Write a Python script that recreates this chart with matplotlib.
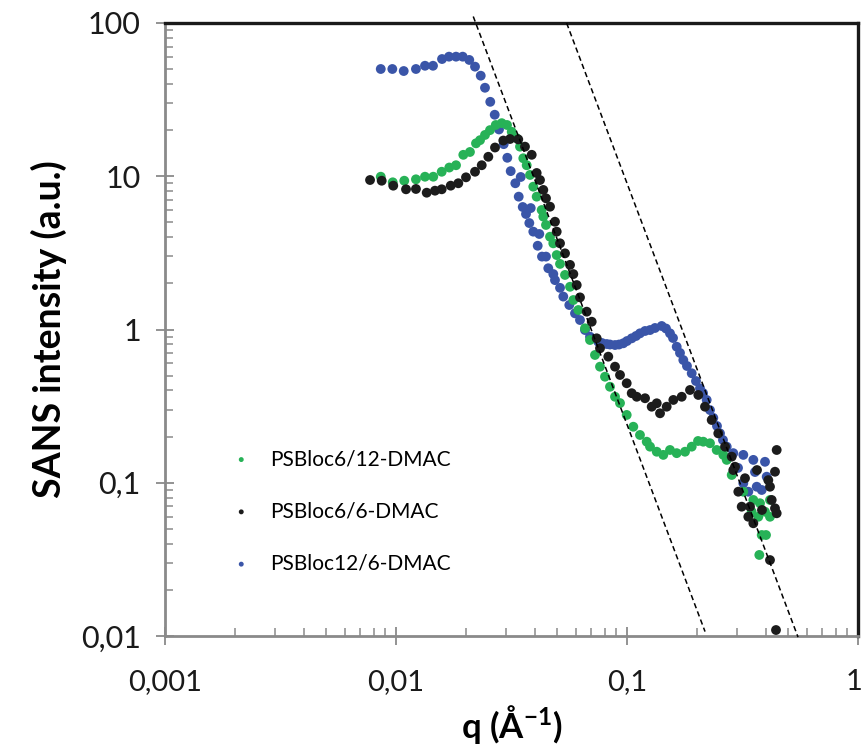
import matplotlib
matplotlib.use("Agg")
import matplotlib.pyplot as plt
import matplotlib.transforms as mtransforms
from matplotlib.ticker import LogLocator, NullFormatter
import numpy as np

plt.rcParams["font.family"] = ["Lato", "DejaVu Sans"]
plt.rcParams["mathtext.default"] = "regular"

# PSBloc6/12-DMAC (green)
q_green = [0.00859, 0.00968, 0.01086, 0.0122, 0.01335, 0.0145, 0.01577, 0.01701, 0.01819, 0.01956,
           0.0209, 0.0222, 0.02311, 0.02428, 0.02552, 0.02703, 0.02869, 0.03024, 0.03169, 0.0333,
           0.03442, 0.03557, 0.03679, 0.03804, 0.0393, 0.04064, 0.04272, 0.04342, 0.0446, 0.04642,
           0.04797, 0.04962, 0.05129, 0.05391, 0.05667, 0.05857, 0.06154, 0.06579, 0.06916, 0.07268,
           0.07641, 0.08031, 0.0844, 0.08874, 0.09327, 0.0997, 0.1065, 0.1138, 0.1217, 0.1258,
           0.1345, 0.1436, 0.1535, 0.1641, 0.1783, 0.1906, 0.203, 0.2139, 0.2287, 0.2445,
           0.2612, 0.2702, 0.284, 0.3188, 0.3523, 0.3765, 0.4159, 0.3465, 0.3702, 0.3957,
           0.4159, 0.383, 0.3997, 0.3739]
I_green = [9.93, 9.13, 9.35, 9.55, 9.93, 9.93, 10.7, 11.4, 11.8, 13.8,
           14.4, 16.4, 17.2, 18.6, 20.0, 21.6, 22.2, 21.6, 19.5, 17.7,
           15.6, 13.1, 11.8, 10.2, 8.55, 7.36, 6.02, 5.45, 4.81, 4.03,
           3.65, 3.06, 2.68, 2.27, 1.90, 1.557, 1.34, 1.018, 0.854, 0.682,
           0.572, 0.492, 0.423, 0.364, 0.331, 0.277, 0.232, 0.205, 0.1853, 0.172,
           0.1594, 0.152, 0.1636, 0.156, 0.1594, 0.172, 0.1873, 0.1853, 0.181, 0.1636,
           0.152, 0.141, 0.1124, 0.0874, 0.0772, 0.0735, 0.0772, 0.0647, 0.060, 0.0647,
           0.060, 0.0456, 0.0456, 0.0338]

# PSBloc6/6-DMAC (black)
q_black = [0.00772, 0.00867, 0.00973, 0.01105, 0.0122, 0.01358, 0.01475, 0.01577, 0.01725, 0.01861,
           0.02009, 0.02198, 0.0235, 0.0251, 0.02683, 0.02914, 0.03115, 0.03383, 0.03617, 0.03868,
           0.04064, 0.04201, 0.04342, 0.0446, 0.04642, 0.04878, 0.04962, 0.05129, 0.05391, 0.05667,
           0.05857, 0.06058, 0.06259, 0.06691, 0.07034, 0.07393, 0.07641, 0.08299, 0.08874, 0.09327,
           0.0997, 0.1048, 0.1102, 0.1197, 0.1279, 0.139, 0.1345, 0.1485, 0.1587, 0.1725,
           0.1874, 0.2036, 0.2176, 0.2326, 0.2484, 0.2657, 0.284, 0.2935, 0.2885, 0.3033,
           0.3137, 0.3408, 0.3351, 0.3523, 0.409, 0.4159, 0.4446, 0.4372, 0.423, 0.4372,
           0.4446, 0.4159, 0.4416, 0.3242, 0.3654, 0.384]
I_black = [9.45, 9.35, 8.68, 8.22, 8.26, 7.81, 8.05, 8.22, 8.68, 9.0,
           9.84, 10.7, 11.8, 13.4, 15.4, 17.1, 17.5, 17.4, 15.6, 13.8,
           10.5, 9.45, 8.14, 7.18, 6.33, 5.05, 4.35, 3.65, 3.14, 2.64,
           2.30, 1.95, 1.62, 1.307, 1.124, 0.876, 0.754, 0.665, 0.572, 0.505,
           0.446, 0.384, 0.364, 0.356, 0.3135, 0.284, 0.330, 0.3135, 0.347, 0.364,
           0.403, 0.374, 0.3135, 0.2568, 0.210, 0.172, 0.148, 0.1272, 0.121, 0.0874,
           0.0698, 0.0698, 0.060, 0.0544, 0.104, 0.0942, 0.1636, 0.118, 0.0772, 0.0681,
           0.0632, 0.0313, 0.01094, 0.107, 0.121, 0.0664]

# PSBloc12/6-DMAC (blue)
q_blue = [0.00859, 0.00964, 0.0108, 0.0122, 0.01335, 0.01446, 0.01582, 0.01696, 0.01819, 0.01944,
          0.02076, 0.02198, 0.02327, 0.02428, 0.02559, 0.02675, 0.02792, 0.02926, 0.03033, 0.03137,
          0.03285, 0.03467, 0.03398, 0.03537, 0.0383, 0.03654, 0.03777, 0.0393, 0.04172, 0.04106,
          0.04285, 0.0446, 0.04563, 0.04797, 0.04878, 0.05129, 0.053, 0.05626, 0.05955, 0.06259,
          0.06579, 0.06916, 0.07511, 0.07796, 0.08169, 0.0844, 0.08874, 0.09235, 0.09638, 0.1,
          0.1048, 0.1094, 0.1138, 0.1197, 0.1258, 0.1322, 0.1413, 0.1475, 0.1535, 0.1582,
          0.1641, 0.1696, 0.1753, 0.1818, 0.1906, 0.1989, 0.207, 0.2133, 0.2213, 0.2287,
          0.2364, 0.2452, 0.2527, 0.2603, 0.2702, 0.2885, 0.3024, 0.3188, 0.3523, 0.3582,
          0.3957, 0.4025, 0.3644, 0.3188, 0.3351, 0.383]
I_blue = [50.1, 50.1, 48.6, 50.1, 52.6, 52.6, 58.2, 60.3, 60.3, 60.3,
          57.4, 51.9, 45.3, 37.8, 30.6, 25.2, 20.2, 16.2, 13.2, 10.8,
          9.0, 9.89, 7.36, 6.3, 6.2, 5.67, 4.95, 4.35, 4.20, 3.52,
          2.99, 2.99, 2.51, 2.30, 2.10, 1.87, 1.64, 1.445, 1.275, 1.153,
          0.992, 0.897, 0.832, 0.816, 0.804, 0.798, 0.792, 0.798, 0.813, 0.841,
          0.876, 0.907, 0.944, 0.978, 0.992, 1.023, 1.054, 1.015, 0.944, 0.880,
          0.772, 0.703, 0.632, 0.578, 0.518, 0.461, 0.413, 0.385, 0.347, 0.298,
          0.265, 0.2346, 0.210, 0.190, 0.172, 0.156, 0.125, 0.152, 0.141, 0.1175,
          0.137, 0.1095, 0.0942, 0.0992, 0.0874, 0.0897]

# q^-4 guide lines: prefactor and q range of each
porod_exp = -4
guide_prefactor = [2.4e-5, 9.0e-4]
guide_qmin = [0.0216, 0.0548]
guide_qmax = [0.2177, 0.55]

x_ticks = [0.001, 0.01, 0.1, 1]
x_labels = ["0,001", "0,01", "0,1", "1"]
y_ticks = [0.01, 0.1, 1, 10, 100]
y_labels = ["0,01", "0,1", "1", "10", "100"]

fig = plt.figure(figsize=(8.64, 7.53), dpi=100)
ax = fig.add_axes([165 / 864, 1 - 636 / 753, 693 / 864, 613 / 753])

ms = 50
h_blue = ax.scatter(q_blue, I_blue, s=ms, color="#3a55a8", edgecolors="none", zorder=3)
h_green = ax.scatter(q_green, I_green, s=ms, color="#27b257", edgecolors="none", zorder=3)
h_black = ax.scatter(q_black, I_black, s=ms, color="#1c1c1c", edgecolors="none", zorder=3)

for A, q0, q1 in zip(guide_prefactor, guide_qmin, guide_qmax):
    qq = np.array([q0, q1])
    ax.plot(qq, A * qq ** porod_exp, color="black", lw=1.1, ls=(0, (3.5, 2.2)),
            zorder=4, clip_on=False)

ax.set_xscale("log")
ax.set_yscale("log")
ax.set_xlim(0.001, 1)
ax.set_ylim(0.01, 100)

ax.set_xticks(x_ticks, x_labels)
ax.set_yticks(y_ticks, y_labels)
ax.xaxis.set_minor_locator(LogLocator(base=10, subs=np.arange(2, 10)))
ax.yaxis.set_minor_locator(LogLocator(base=10, subs=np.arange(2, 10)))
ax.xaxis.set_minor_formatter(NullFormatter())
ax.yaxis.set_minor_formatter(NullFormatter())

gray = "#8a8a8a"
ax.tick_params(which="major", direction="inout", length=13, width=1.3, color=gray,
               labelcolor="#1a1a1a")
ax.tick_params(axis="x", which="major", labelsize=21, pad=17)
ax.tick_params(axis="y", which="major", labelsize=22, pad=11)
ax.tick_params(which="minor", direction="in", length=6, width=1.1, color=gray)
for s in ["left", "bottom"]:
    ax.spines[s].set_color(gray)
    ax.spines[s].set_linewidth(2)
for s in ["top", "right"]:
    ax.spines[s].set_color("#1a1a1a")
    ax.spines[s].set_linewidth(2.4)

# nudge the last x label ("1") a little left so it stays inside the figure
last = ax.get_xticklabels()[-1]
last.set_transform(last.get_transform() +
                   mtransforms.ScaledTranslation(-4 / 100, 0, fig.dpi_scale_trans))

ax.set_ylabel("SANS intensity (a.u.)", fontsize=27, fontweight="bold", labelpad=10)
ax.set_xlabel("q (Å$^{-1}$)", fontsize=25, fontweight="bold", labelpad=6)

ax.legend([h_green, h_black, h_blue],
          ["PSBloc6/12-DMAC", "PSBloc6/6-DMAC", "PSBloc12/6-DMAC"],
          loc="upper left", bbox_to_anchor=(0.095, 0.305), frameon=False,
          fontsize=15, markerscale=0.5, handlelength=1.0, handletextpad=0.9,
          labelspacing=1.55, borderpad=0, borderaxespad=0)

fig.savefig("out.png", dpi=100)
